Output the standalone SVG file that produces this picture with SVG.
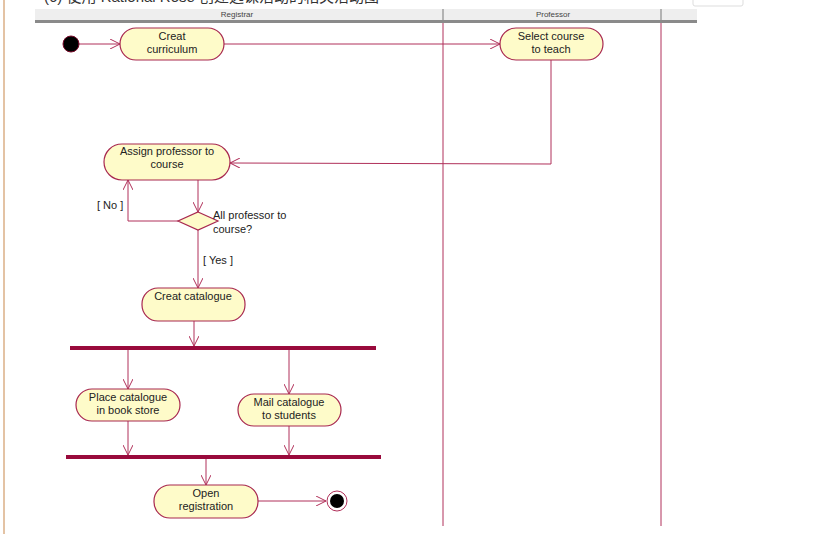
<svg xmlns="http://www.w3.org/2000/svg" width="816" height="534" viewBox="0 0 816 534">
<style>
.t{font-family:"Liberation Sans",Arial,sans-serif;font-size:11px;fill:#222;text-anchor:middle}
.tl{font-family:"Liberation Sans",Arial,sans-serif;font-size:11px;fill:#222}
.h{font-family:"Liberation Sans",Arial,sans-serif;font-size:8px;fill:#444;text-anchor:middle}
.act{fill:#fefbc9;stroke:#a8284f;stroke-width:1.2}
.ln{fill:none;stroke:#b0305a;stroke-width:1}
.bar{fill:#990a3c}
.lane{stroke:#b0305a;stroke-width:1}
</style>
<defs>
<marker id="arr" viewBox="0 0 10 10" refX="10" refY="5" markerWidth="10" markerHeight="10" markerUnits="userSpaceOnUse" orient="auto">
<path d="M0,0 L10,5 L0,10" fill="none" stroke="#b0305a" stroke-width="1"/>
</marker>
</defs>
<rect width="816" height="534" fill="#fff"/>
<line x1="4" y1="0" x2="4" y2="534" stroke="#c8874a" stroke-width="1"/>
<text x="44" y="2" font-family="Liberation Sans,'Noto Sans CJK SC',sans-serif" font-size="15" fill="#333">(6) 使用 Rational Rose 创建选课活动的相关活动图</text>
<rect x="693" y="-6" width="50" height="12" rx="2" fill="#fff" stroke="#ddd"/>
<g id="swimlanes">
<rect x="35" y="9" width="662" height="11" fill="#eeeeee"/>
<rect x="35" y="20" width="662" height="3" fill="#8a8a8a"/>
<line x1="443" y1="9" x2="443" y2="20" stroke="#777"/>
<line x1="661" y1="9" x2="661" y2="20" stroke="#777"/>
<text class="h" x="237" y="17">Registrar</text>
<text class="h" x="553" y="17">Professor</text>
<line class="lane" x1="443" y1="23" x2="443" y2="526"/>
<line class="lane" x1="661" y1="23" x2="661" y2="526"/>
</g>
<g id="connectors">
<line class="ln" x1="79" y1="44" x2="120" y2="44" marker-end="url(#arr)"/>
<line class="ln" x1="224" y1="44" x2="500" y2="44" marker-end="url(#arr)"/>
<polyline class="ln" points="551,60 551,164 230,163" marker-end="url(#arr)"/>
<line class="ln" x1="198" y1="180" x2="198" y2="212" marker-end="url(#arr)"/>
<polyline class="ln" points="178,221 128,221 128,180" marker-end="url(#arr)"/>
<line class="ln" x1="198" y1="230" x2="198" y2="288" marker-end="url(#arr)"/>
<line class="ln" x1="194" y1="321" x2="194" y2="346" marker-end="url(#arr)"/>
<line class="ln" x1="128" y1="350" x2="128" y2="389" marker-end="url(#arr)"/>
<line class="ln" x1="289" y1="350" x2="289" y2="394" marker-end="url(#arr)"/>
<line class="ln" x1="128" y1="421" x2="128" y2="455" marker-end="url(#arr)"/>
<line class="ln" x1="289" y1="426" x2="289" y2="455" marker-end="url(#arr)"/>
<line class="ln" x1="206" y1="459" x2="206" y2="485" marker-end="url(#arr)"/>
<line class="ln" x1="258" y1="501" x2="326" y2="501" marker-end="url(#arr)"/>
<text class="tl" x="97" y="209">[ No ]</text>
<text class="tl" x="203" y="264">[ Yes ]</text>
</g>
<g id="start"><circle cx="71" cy="44" r="8" fill="#000" stroke="#7a0a2a"/></g>
<g id="creat-curriculum">
<rect class="act" x="120" y="28" width="104" height="32" rx="16"/>
<text class="t" x="172" y="40">Creat</text>
<text class="t" x="172" y="53">curriculum</text>
</g>
<g id="select-course">
<rect class="act" x="500" y="28" width="103" height="32" rx="16"/>
<text class="t" x="551" y="40">Select course</text>
<text class="t" x="551" y="53">to teach</text>
</g>
<g id="assign-professor">
<rect class="act" x="104" y="144" width="126" height="36" rx="18"/>
<text class="t" x="167" y="155">Assign professor to</text>
<text class="t" x="167" y="168">course</text>
</g>
<g id="decision">
<polygon points="198,212 218,221 198,230 178,221" fill="#fefbc9" stroke="#a8284f" stroke-width="1.2"/>
<text class="tl" x="213" y="219">All professor to</text>
<text class="tl" x="213" y="233">course?</text>
</g>
<g id="creat-catalogue">
<rect class="act" x="142" y="288" width="103" height="33" rx="16"/>
<text class="t" x="193" y="300">Creat catalogue</text>
</g>
<g id="fork"><rect class="bar" x="70" y="346" width="306" height="4"/></g>
<g id="place-catalogue">
<rect class="act" x="76" y="389" width="104" height="32" rx="16"/>
<text class="t" x="128" y="401">Place catalogue</text>
<text class="t" x="128" y="414">in book store</text>
</g>
<g id="mail-catalogue">
<rect class="act" x="238" y="394" width="103" height="32" rx="16"/>
<text class="t" x="289" y="406">Mail catalogue</text>
<text class="t" x="289" y="419">to students</text>
</g>
<g id="join"><rect class="bar" x="66" y="455" width="315" height="4"/></g>
<g id="open-registration">
<rect class="act" x="154" y="485" width="104" height="33" rx="16"/>
<text class="t" x="206" y="497">Open</text>
<text class="t" x="206" y="510">registration</text>
</g>
<g id="end">
<circle cx="337" cy="501" r="10" fill="#fff" stroke="#b0305a"/>
<circle cx="337" cy="501" r="7" fill="#000"/>
</g>
</svg>
